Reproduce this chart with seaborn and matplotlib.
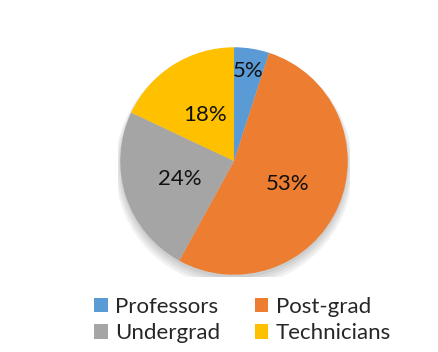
import numpy as np
import matplotlib
matplotlib.use("Agg")
import matplotlib.pyplot as plt
import seaborn as sns
from matplotlib.patches import Patch, Circle

categories = ["Professors", "Post-grad", "Undergrad", "Technicians"]
shares = [5, 53, 24, 18]
pct_labels = ["5%", "53%", "24%", "18%"]
colors = ["#5B9BD5", "#ED7D31", "#A5A5A5", "#FFC000"]
label_dist = [0.80, 0.51, 0.50, 0.48]

sns.set_theme(style="white")
plt.rcParams["font.family"] = ["Lato", "DejaVu Sans"]

fig = plt.figure(figsize=(4.39, 3.52), dpi=100)
ax = fig.add_axes([118 / 439, 75 / 352, 232 / 439, 232 / 352])

# soft shadow under the pie
for i, a in enumerate([0.05, 0.05, 0.05, 0.05]):
    ax.add_patch(Circle((0, -0.03 - 0.01 * i), 1.0 + 0.015 * i,
                        color="black", alpha=a, lw=0, zorder=0))

wedges, _ = ax.pie(shares, colors=colors, startangle=90, counterclock=False,
                   radius=1.0, wedgeprops=dict(linewidth=0))
for w in wedges:
    w.set_zorder(1)

for w, txt, d in zip(wedges, pct_labels, label_dist):
    mid = np.deg2rad((w.theta1 + w.theta2) / 2)
    ax.text(d * np.cos(mid), d * np.sin(mid), txt, ha="center", va="center",
            fontsize=16, color="#111111", zorder=3)

ax.set_xlim(-1.02, 1.02)
ax.set_ylim(-1.02, 1.02)
ax.set_aspect("equal")
ax.axis("off")

order = [0, 2, 1, 3]
handles = [Patch(facecolor=colors[i], edgecolor="none") for i in order]
fig.legend(handles, [categories[i] for i in order], ncol=2,
           loc="center", bbox_to_anchor=(0.553, 0.091), frameon=False,
           fontsize=16, handlelength=0.6, handleheight=0.6,
           handletextpad=0.35, columnspacing=1.55, labelspacing=0.3)

fig.savefig("out.png", dpi=100, facecolor="white")
